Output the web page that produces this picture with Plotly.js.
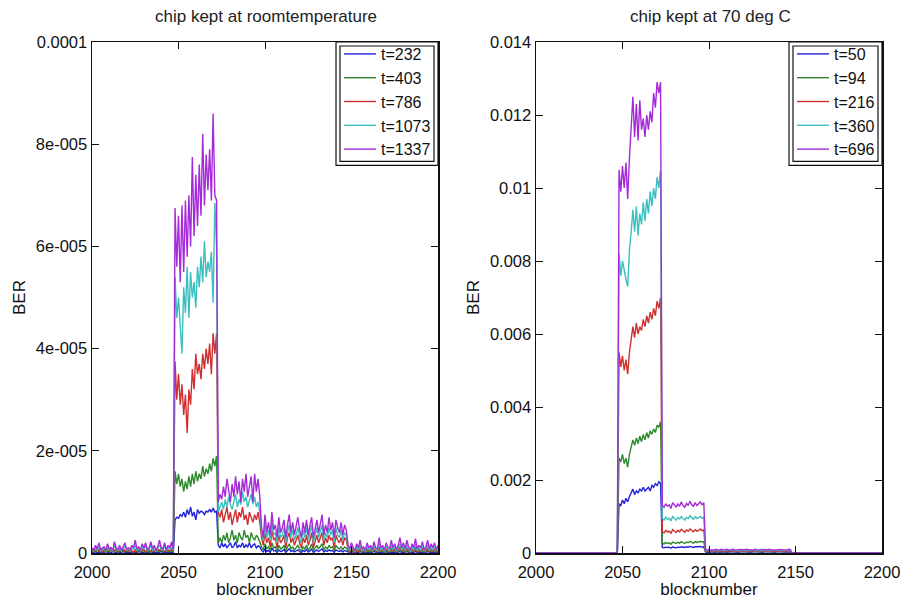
<!DOCTYPE html>
<html>
<head>
<meta charset="utf-8">
<script src="https://cdn.plot.ly/plotly-3.0.1.min.js"></script>
<style>html,body{margin:0;padding:0;background:#fff}#chart{width:907px;height:599px}</style>
</head>
<body>
<div id="chart"></div>
<script>
// ---------- Left plot: chip kept at room temperature (values in units of 1e-5) ----------
const LEFT_UNIT = 1e-5;
const leftNames = ["t=232", "t=403", "t=786", "t=1073", "t=1337"];
// blocks 2000-2047
const L232_pre  = [0.02,0.01,0.03,0.01,0.02,0.0,0.02,0.01,0.03,0.01,0.02,0.01,0.03,0.02,0.01,0.0,0.02,0.01,0.03,0.01,0.02,0.01,0.02,0.0,0.01,0.02,0.01,0.03,0.01,0.02,0.01,0.0,0.02,0.01,0.03,0.01,0.02,0.01,0.02,0.01,0.03,0.01,0.02,0.0,0.02,0.01,0.02,0.01];
const L403_pre  = [0.03,0.05,0.02,0.06,0.03,0.04,0.01,0.05,0.03,0.04,0.02,0.06,0.03,0.04,0.05,0.01,0.04,0.03,0.06,0.02,0.04,0.03,0.05,0.03,0.02,0.04,0.03,0.06,0.02,0.04,0.05,0.01,0.04,0.03,0.02,0.05,0.02,0.04,0.05,0.03,0.06,0.03,0.02,0.04,0.04,0.03,0.05,0.03];
const L786_pre  = [0.05,0.08,0.03,0.1,0.04,0.06,0.02,0.09,0.05,0.07,0.03,0.11,0.04,0.06,0.08,0.02,0.07,0.05,0.1,0.03,0.06,0.04,0.09,0.05,0.0,0.07,0.04,0.1,0.03,0.06,0.08,0.02,0.07,0.05,0.04,0.09,0.03,0.06,0.08,0.04,0.1,0.05,0.03,0.07,0.06,0.04,0.08,0.05];
const L1073_pre = [0.08,0.05,0.1,0.06,0.12,0.04,0.08,0.1,0.05,0.12,0.06,0.08,0.04,0.15,0.08,0.05,0.1,0.04,0.09,0.14,0.06,0.08,0.05,0.1,0.07,0.16,0.06,0.09,0.04,0.12,0.08,0.14,0.05,0.07,0.15,0.06,0.1,0.04,0.09,0.16,0.07,0.06,0.13,0.05,0.1,0.08,0.15,0.06];
const L1337_pre = [0.1,0.05,0.15,0.08,0.2,0.05,0.1,0.12,0.06,0.18,0.08,0.1,0.05,0.22,0.1,0.07,0.15,0.05,0.12,0.2,0.08,0.1,0.06,0.15,0.1,0.25,0.08,0.12,0.05,0.18,0.1,0.2,0.06,0.1,0.22,0.08,0.15,0.05,0.12,0.25,0.1,0.08,0.2,0.06,0.15,0.1,0.22,0.08];
// blocks 2048-2072
const L232_high  = [0.65,0.7,0.68,0.75,0.72,0.8,0.7,0.85,0.75,0.9,0.72,0.8,0.65,0.85,0.78,0.82,0.8,0.75,0.82,0.8,0.85,0.8,0.88,0.8,0.82];
const L403_high  = [1.6,1.35,1.55,1.3,1.45,1.2,1.4,1.25,1.5,1.3,1.55,1.35,1.6,1.4,1.55,1.45,1.7,1.5,1.65,1.55,1.75,1.6,1.85,1.7,1.9];
const L786_high  = [3.75,3.0,3.5,2.9,3.3,2.7,3.1,2.35,3.2,2.9,3.6,3.2,3.9,3.5,3.7,3.4,3.9,3.6,4.0,3.7,4.1,3.5,4.3,3.9,4.3];
const L1073_high = [5.4,4.6,5.0,4.4,3.9,5.2,4.7,5.6,4.6,5.5,5.0,5.3,4.8,5.6,5.2,5.8,5.3,6.1,5.4,5.7,5.5,5.9,4.9,6.85,6.0];
const L1337_high = [6.75,5.6,6.6,5.3,6.8,5.5,6.9,5.8,7.0,6.0,7.75,6.2,7.4,6.4,7.6,6.6,8.2,6.8,7.8,7.1,7.9,6.9,8.6,7.0,6.9];
// blocks 2073-2097
const L232_mid  = [0.15,0.1,0.2,0.12,0.18,0.1,0.15,0.2,0.1,0.14,0.22,0.1,0.15,0.12,0.2,0.1,0.16,0.12,0.2,0.1,0.15,0.18,0.1,0.14,0.12];
const L403_mid  = [0.2,0.3,0.2,0.35,0.25,0.4,0.2,0.3,0.45,0.25,0.35,0.2,0.4,0.3,0.25,0.45,0.3,0.35,0.2,0.4,0.3,0.25,0.35,0.3,0.2];
const L786_mid  = [0.8,0.7,0.85,0.6,0.75,0.9,0.65,0.8,0.55,0.7,0.85,0.6,0.8,0.7,0.9,0.65,0.75,0.55,0.8,0.7,0.6,0.75,0.65,0.8,0.6];
const L1073_mid = [0.8,0.9,1.0,0.85,1.05,0.9,1.1,0.95,0.85,1.0,1.15,0.9,1.05,0.95,1.2,1.0,1.1,0.9,1.05,1.15,0.95,1.1,0.9,1.0,0.8];
const L1337_mid = [1.0,1.15,1.05,1.3,1.1,1.45,1.2,1.0,1.35,1.1,1.5,1.15,1.4,1.0,1.45,1.2,1.55,1.1,1.3,1.5,1.0,1.55,1.2,1.45,1.1];
// blocks 2098-2147
const L232_low  = [0.05,0.02,0.08,0.03,0.05,0.01,0.1,0.04,0.05,0.01,0.06,0.03,0.04,0.07,0.01,0.05,0.08,0.03,0.05,0.02,0.04,0.06,0.03,0.01,0.05,0.03,0.07,0.02,0.04,0.08,0.01,0.04,0.06,0.03,0.05,0.08,0.02,0.05,0.03,0.06,0.04,0.05,0.01,0.06,0.04,0.03,0.05,0.02,0.05,0.04];
const L403_low  = [0.12,0.06,0.18,0.08,0.12,0.05,0.2,0.1,0.12,0.04,0.15,0.08,0.1,0.15,0.04,0.12,0.18,0.08,0.12,0.06,0.1,0.15,0.08,0.04,0.12,0.08,0.15,0.06,0.1,0.18,0.04,0.1,0.15,0.08,0.12,0.18,0.06,0.12,0.08,0.15,0.1,0.12,0.04,0.15,0.1,0.08,0.12,0.06,0.12,0.1];
const L786_low  = [0.3,0.15,0.4,0.2,0.3,0.12,0.45,0.25,0.3,0.1,0.35,0.2,0.25,0.35,0.1,0.3,0.4,0.2,0.3,0.15,0.25,0.35,0.2,0.1,0.3,0.2,0.35,0.15,0.25,0.4,0.1,0.25,0.35,0.2,0.3,0.4,0.15,0.3,0.2,0.35,0.25,0.3,0.1,0.35,0.25,0.2,0.3,0.15,0.3,0.25];
const L1073_low = [0.4,0.25,0.55,0.3,0.45,0.25,0.6,0.35,0.4,0.2,0.5,0.3,0.35,0.5,0.2,0.4,0.55,0.3,0.45,0.25,0.35,0.5,0.3,0.2,0.45,0.3,0.5,0.25,0.4,0.55,0.2,0.35,0.5,0.3,0.45,0.55,0.25,0.4,0.3,0.5,0.35,0.45,0.2,0.5,0.35,0.3,0.45,0.25,0.4,0.35];
const L1337_low = [0.5,0.3,0.75,0.4,0.6,0.35,0.8,0.45,0.55,0.3,0.7,0.4,0.5,0.65,0.3,0.55,0.75,0.4,0.6,0.35,0.5,0.7,0.45,0.3,0.6,0.4,0.65,0.35,0.55,0.7,0.3,0.5,0.65,0.4,0.6,0.75,0.35,0.55,0.4,0.7,0.45,0.6,0.3,0.65,0.5,0.4,0.6,0.35,0.55,0.45];
// blocks 2148-2200
const L232_post  = [0.02,0.01,0.03,0.01,0.0,0.02,0.01,0.03,0.01,0.02,0.0,0.02,0.01,0.02,0.01,0.03,0.01,0.0,0.02,0.01,0.02,0.0,0.03,0.01,0.01,0.02,0.01,0.02,0.0,0.02,0.03,0.01,0.02,0.01,0.03,0.01,0.0,0.02,0.01,0.03,0.01,0.02,0.01,0.02,0.0,0.01,0.03,0.01,0.02,0.01,0.02,0.0,0.02];
const L403_post  = [0.04,0.02,0.05,0.03,0.01,0.05,0.03,0.06,0.02,0.04,0.01,0.05,0.03,0.04,0.02,0.06,0.03,0.02,0.07,0.03,0.04,0.01,0.05,0.03,0.02,0.06,0.03,0.05,0.02,0.04,0.07,0.03,0.05,0.02,0.06,0.03,0.01,0.05,0.03,0.07,0.02,0.04,0.03,0.06,0.02,0.03,0.06,0.02,0.05,0.03,0.05,0.02,0.04];
const L786_post  = [0.07,0.03,0.09,0.05,0.0,0.08,0.04,0.11,0.03,0.06,0.02,0.09,0.05,0.07,0.03,0.1,0.05,0.03,0.12,0.05,0.07,0.02,0.09,0.05,0.03,0.1,0.05,0.08,0.03,0.07,0.12,0.04,0.09,0.03,0.1,0.05,0.02,0.08,0.04,0.11,0.03,0.07,0.04,0.09,0.02,0.05,0.1,0.03,0.08,0.04,0.09,0.03,0.06];
const L1073_post = [0.1,0.05,0.13,0.07,0.03,0.12,0.06,0.16,0.05,0.08,0.03,0.13,0.07,0.1,0.04,0.14,0.07,0.05,0.18,0.07,0.1,0.03,0.13,0.08,0.05,0.16,0.07,0.12,0.04,0.1,0.18,0.06,0.13,0.05,0.16,0.08,0.03,0.12,0.06,0.17,0.05,0.1,0.06,0.14,0.04,0.08,0.16,0.05,0.12,0.06,0.13,0.04,0.1];
const L1337_post = [0.15,0.08,0.2,0.1,0.05,0.18,0.1,0.25,0.08,0.12,0.05,0.2,0.1,0.15,0.06,0.22,0.1,0.08,0.3,0.1,0.15,0.05,0.2,0.12,0.08,0.25,0.1,0.18,0.06,0.15,0.3,0.1,0.2,0.08,0.25,0.12,0.05,0.18,0.1,0.28,0.08,0.15,0.1,0.22,0.06,0.12,0.25,0.08,0.18,0.1,0.2,0.06,0.15];

// ---------- Right plot: chip kept at 70 deg C (values in units of 1e-3) ----------
const RIGHT_UNIT = 1e-3;
const rightNames = ["t=50", "t=94", "t=216", "t=360", "t=696"];
const R_lead = [0, 0];          // blocks 2000, 2047
const R_tail = [0, 0];          // blocks 2148, 2200
// blocks 2048-2072
const R50_high  = [1.35,1.3,1.45,1.35,1.5,1.4,1.55,1.65,1.75,1.6,1.7,1.65,1.75,1.7,1.8,1.7,1.75,1.8,1.7,1.85,1.8,1.9,1.85,1.95,1.9];
const R94_high  = [2.6,2.5,2.7,2.45,2.6,2.35,2.7,2.9,3.1,2.95,3.15,3.0,3.2,3.05,3.25,3.1,3.3,3.15,3.35,3.25,3.4,3.3,3.5,3.45,3.6];
const R216_high = [5.5,5.1,5.4,5.0,5.3,4.9,5.5,5.8,6.2,5.9,6.3,6.0,6.2,6.1,6.4,6.2,6.5,6.3,6.6,6.4,6.7,6.5,6.9,6.7,7.0];
const R360_high = [8.2,7.6,8.0,7.7,7.5,7.3,8.3,8.8,9.4,8.8,9.5,8.7,9.3,9.0,9.6,9.1,9.7,9.3,9.9,9.5,10.0,9.7,10.3,10.0,10.5];
const R696_high = [10.5,9.9,10.6,10.0,10.7,9.7,10.8,11.6,12.5,11.4,12.3,11.3,12.4,11.6,11.9,11.4,12.0,11.6,12.1,11.8,12.6,12.2,12.9,12.6,12.9];
// blocks 2073-2097
const R50_mid  = [0.15,0.14,0.16,0.15,0.16,0.13,0.17,0.15,0.14,0.16,0.15,0.17,0.16,0.15,0.17,0.16,0.18,0.16,0.15,0.17,0.16,0.17,0.18,0.16,0.17];
const R94_mid  = [0.27,0.25,0.29,0.26,0.28,0.24,0.3,0.27,0.26,0.29,0.27,0.31,0.28,0.26,0.3,0.28,0.32,0.29,0.27,0.31,0.29,0.3,0.32,0.3,0.31];
const R216_mid = [0.58,0.55,0.62,0.57,0.6,0.54,0.64,0.59,0.56,0.62,0.58,0.65,0.6,0.57,0.63,0.6,0.66,0.61,0.58,0.64,0.6,0.62,0.66,0.61,0.64];
const R360_mid = [0.95,0.9,0.98,0.92,0.96,0.88,1.0,0.94,0.9,0.97,0.93,1.0,0.95,0.9,0.98,0.94,1.02,0.96,0.92,0.99,0.95,0.97,1.0,0.95,0.98];
const R696_mid = [1.3,1.25,1.35,1.28,1.32,1.22,1.38,1.3,1.26,1.34,1.28,1.4,1.3,1.25,1.36,1.3,1.42,1.32,1.28,1.38,1.3,1.35,1.4,1.32,1.38];
// blocks 2098-2147
const R50_low  = [0.03,0.02,0.03,0.02,0.03,0.02,0.03,0.03,0.02,0.03,0.02,0.03,0.02,0.03,0.02,0.03,0.03,0.02,0.03,0.02,0.03,0.02,0.03,0.03,0.02,0.03,0.02,0.03,0.02,0.03,0.03,0.02,0.03,0.02,0.03,0.02,0.03,0.03,0.02,0.03,0.02,0.03,0.02,0.03,0.03,0.02,0.03,0.02,0.03,0.02];
const R94_low  = [0.04,0.03,0.04,0.04,0.03,0.04,0.05,0.03,0.04,0.04,0.03,0.05,0.04,0.03,0.04,0.04,0.05,0.03,0.04,0.04,0.03,0.04,0.05,0.04,0.03,0.04,0.04,0.05,0.03,0.04,0.04,0.03,0.05,0.04,0.04,0.03,0.04,0.05,0.04,0.03,0.04,0.04,0.05,0.03,0.04,0.04,0.03,0.04,0.05,0.04];
const R216_low = [0.05,0.04,0.06,0.05,0.04,0.06,0.05,0.04,0.05,0.06,0.04,0.05,0.06,0.05,0.04,0.05,0.06,0.04,0.05,0.05,0.04,0.06,0.05,0.04,0.05,0.06,0.05,0.04,0.06,0.05,0.04,0.05,0.06,0.05,0.04,0.05,0.06,0.04,0.05,0.05,0.06,0.04,0.05,0.06,0.05,0.04,0.05,0.06,0.05,0.04];
const R360_low = [0.07,0.06,0.08,0.06,0.07,0.06,0.08,0.07,0.06,0.08,0.07,0.06,0.08,0.07,0.06,0.07,0.08,0.06,0.07,0.07,0.06,0.08,0.07,0.06,0.07,0.08,0.06,0.07,0.08,0.07,0.06,0.07,0.08,0.06,0.07,0.08,0.07,0.06,0.07,0.08,0.06,0.07,0.07,0.08,0.06,0.07,0.08,0.06,0.07,0.07];
const R696_low = [0.09,0.08,0.1,0.08,0.09,0.07,0.1,0.09,0.08,0.1,0.09,0.08,0.1,0.09,0.07,0.09,0.1,0.08,0.09,0.08,0.1,0.09,0.08,0.09,0.1,0.08,0.09,0.07,0.09,0.1,0.08,0.09,0.08,0.1,0.09,0.08,0.09,0.1,0.08,0.09,0.07,0.09,0.08,0.1,0.09,0.08,0.09,0.08,0.1,0.09];

const xTickVals = [2000, 2050, 2100, 2150, 2200];
const leftYTickVals = [0, 2e-5, 4e-5, 6e-5, 8e-5, 1e-4];
const leftYTickText = ["0", "2e-005", "4e-005", "6e-005", "8e-005", "0.0001"];
const rightYTickVals = [0, 0.002, 0.004, 0.006, 0.008, 0.010, 0.012, 0.014];
const rightYTickText = ["0", "0.002", "0.004", "0.006", "0.008", "0.01", "0.012", "0.014"];

const colors = ["#2222dd", "#2d8a2d", "#cf2f2f", "#3cbfbf", "#a52bd8"];

// block numbers
const leftX = [];
for (let b = 2000; b <= 2200; b++) leftX.push(b);
const rightX = [2000, 2047];
for (let b = 2048; b <= 2147; b++) rightX.push(b);
rightX.push(2148, 2200);

const leftSeries = [
  [L232_pre, L232_high, L232_mid, L232_low, L232_post],
  [L403_pre, L403_high, L403_mid, L403_low, L403_post],
  [L786_pre, L786_high, L786_mid, L786_low, L786_post],
  [L1073_pre, L1073_high, L1073_mid, L1073_low, L1073_post],
  [L1337_pre, L1337_high, L1337_mid, L1337_low, L1337_post]
];
const rightSeries = [
  [R50_high, R50_mid, R50_low],
  [R94_high, R94_mid, R94_low],
  [R216_high, R216_mid, R216_low],
  [R360_high, R360_mid, R360_low],
  [R696_high, R696_mid, R696_low]
];

const traces = [];
leftSeries.forEach((segs, i) => {
  const y = [].concat(...segs).map(v => v * LEFT_UNIT);
  traces.push({x: leftX, y: y, type: "scatter", mode: "lines", name: leftNames[i],
    line: {color: colors[i], width: 1.4}, xaxis: "x", yaxis: "y", legend: "legend"});
});
rightSeries.forEach((segs, i) => {
  const y = [].concat(R_lead, ...segs, R_tail).map(v => v * RIGHT_UNIT);
  traces.push({x: rightX, y: y, type: "scatter", mode: "lines", name: rightNames[i],
    line: {color: colors[i], width: 1.4}, xaxis: "x2", yaxis: "y2", legend: "legend2"});
});

const FAM = "Liberation Sans, Arial, sans-serif";
const INK = "#111";
const W = 907, H = 599;
const axisCommon = {
  showline: true, linecolor: INK, linewidth: 1.5, mirror: "ticks",
  ticks: "inside", ticklen: 7, tickwidth: 1, tickcolor: INK,
  showgrid: false, zeroline: false, automargin: false,
  tickfont: {family: FAM, size: 16.5, color: INK}
};
const legendCommon = {
  bgcolor: "rgba(0,0,0,0)", bordercolor: INK, borderwidth: 0,
  font: {family: FAM, size: 16, color: INK},
  xanchor: "right", yanchor: "top", itemwidth: 32, tracegroupgap: 0
};

const layout = {
  width: W, height: H,
  margin: {l: 0, r: 0, t: 0, b: 0},
  paper_bgcolor: "#fff", plot_bgcolor: "#fff",
  font: {family: FAM, color: INK},
  showlegend: true,
  xaxis: Object.assign({}, axisCommon, {domain: [92/W, 438/W], range: [2000, 2200],
    tickvals: xTickVals, anchor: "y", ticklabelstandoff: 4,
    title: {text: "blocknumber", font: {size: 17, family: FAM, color: INK}, standoff: 0}}),
  yaxis: Object.assign({}, axisCommon, {domain: [46/H, 557/H], range: [0, 1e-4],
    tickvals: leftYTickVals, ticktext: leftYTickText, anchor: "x",
    title: {text: "BER", font: {size: 17, family: FAM, color: INK}, standoff: 6}}),
  xaxis2: Object.assign({}, axisCommon, {domain: [536/W, 882/W], range: [2000, 2200],
    tickvals: xTickVals, anchor: "y2", ticklabelstandoff: 4,
    title: {text: "blocknumber", font: {size: 17, family: FAM, color: INK}, standoff: 0}}),
  yaxis2: Object.assign({}, axisCommon, {domain: [46/H, 557/H], range: [0, 0.014],
    tickvals: rightYTickVals, ticktext: rightYTickText, anchor: "x2",
    title: {text: "BER", font: {size: 17, family: FAM, color: INK}, standoff: 6}}),
  legend: Object.assign({}, legendCommon, {x: 436/W, y: 1 - 37/H}),
  legend2: Object.assign({}, legendCommon, {x: 880/W, y: 1 - 37/H}),
  annotations: [
    {text: "chip kept at roomtemperature", xref: "paper", yref: "paper", x: 266/W, y: 1 - 16/H,
     showarrow: false, xanchor: "center", yanchor: "middle", font: {size: 17, family: FAM, color: "#222"}},
    {text: "chip kept at 70 deg C", xref: "paper", yref: "paper", x: 710/W, y: 1 - 16/H,
     showarrow: false, xanchor: "center", yanchor: "middle", font: {size: 17, family: FAM, color: "#222"}}
  ]
};

Plotly.newPlot("chart", traces, layout, {displayModeBar: false, staticPlot: true}).then(gd => {
  // double legend border drawn tightly around the legend entries
  const shapes = [];
  const gr = gd.getBoundingClientRect();
  const frameRight = {legend: 438, legend2: 882};
  ["legend", "legend2"].forEach(cls => {
    const items = gd.querySelectorAll("g." + cls + " g.traces text, g." + cls + " g.traces path.js-line");
    if (!items.length) return;
    let l = Infinity, b = -Infinity;
    items.forEach(el => {
      const r = el.getBoundingClientRect();
      l = Math.min(l, r.left - gr.left);
      b = Math.max(b, r.bottom - gr.top);
    });
    const inner = {x0: l - 4, x1: frameRight[cls] - 4, y0: 46, y1: b + 3};
    const outer = {x0: inner.x0 - 4, x1: frameRight[cls], y0: 42, y1: inner.y1 + 4};
    [outer, inner].forEach(r => {
      shapes.push({type: "rect", xref: "paper", yref: "paper",
        x0: r.x0 / W, x1: r.x1 / W, y0: 1 - r.y1 / H, y1: 1 - r.y0 / H,
        line: {color: INK, width: 1.2}, fillcolor: "#fff", layer: "above"});
    });
  });
  return Plotly.relayout(gd, {shapes: shapes});
});
</script>
</body>
</html>
